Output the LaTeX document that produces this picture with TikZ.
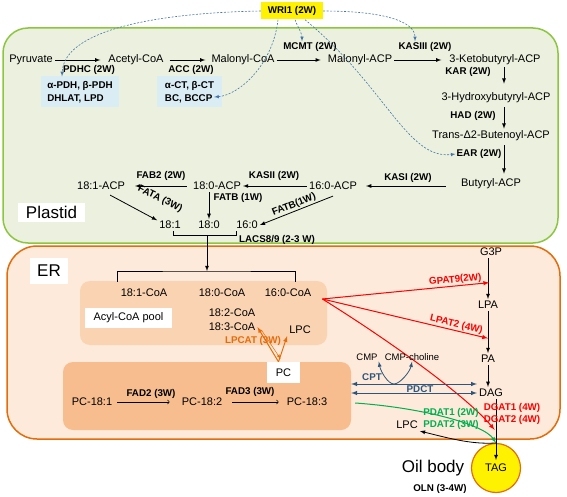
\documentclass[tikz,border=0pt]{standalone}
\usepackage{fontspec}
\setmainfont{Liberation Sans}
\usetikzlibrary{calc}

\definecolor{plastidfill}{RGB}{235,241,222}
\definecolor{plastidline}{RGB}{140,198,63}
\definecolor{erfill}{RGB}{253,234,218}
\definecolor{erline}{RGB}{228,108,10}
\definecolor{poolfill}{RGB}{250,211,178}
\definecolor{pcfill}{RGB}{247,189,142}
\definecolor{enzfill}{RGB}{219,237,244}
\definecolor{wriblue}{RGB}{70,118,170}
\definecolor{cptblue}{RGB}{47,85,124}
\definecolor{pdatgreen}{RGB}{0,176,80}

\tikzset{
  met/.style={inner sep=2pt, font=\fontsize{11}{13}\selectfont},
  enz/.style={inner sep=1pt, font=\fontsize{9.8}{13}\selectfont\bfseries},
  arr/.style={-latex, line width=0.8pt},
  wri/.style={-latex, wriblue, line width=0.6pt, dash pattern=on 2pt off 1.5pt},
  redarr/.style={-latex, red, line width=1pt},
  cptarr/.style={latex-latex, cptblue, line width=1pt},
  lpcat/.style={erline, line width=1pt}
}

\begin{document}
\begin{tikzpicture}[x=1pt, y=-1pt]
\useasboundingbox (0,0) rectangle (567,497);

% compartments
\draw [plastidline, fill=plastidfill, line width=1.5pt, rounded corners=25pt] (3,28) rectangle (558,243);
\draw [erline, fill=erfill, line width=1.5pt, rounded corners=30pt] (7,246) rectangle (560,439);
\node [fill=white, minimum width=67pt, minimum height=19pt, font=\fontsize{17}{19}\selectfont] (plastid) at (51.5,212.5) {Plastid};
\node [fill=white, minimum width=38pt, minimum height=26pt, font=\fontsize{17}{19}\selectfont] (er) at (49,271) {ER};
\node [fill=poolfill, rounded corners=10pt, minimum width=247pt, minimum height=64pt] (pool) at (203.5,313) {};
\node [fill=pcfill, rounded corners=10pt, minimum width=288pt, minimum height=68pt] (pcbox) at (207,396) {};

\node [enz, fill=yellow, minimum width=62pt, minimum height=17pt] (wri) at (292,11) {WRI1 (2W)};

% plastid pathway
\node [met] (pyr) at (31,60) {Pyruvate};
\node [met] (acoa) at (136,60) {Acetyl-CoA};
\node [met] (mcoa) at (243,60) {Malonyl-CoA};
\node [met] (macp) at (360,60) {Malonyl-ACP};
\node [met] (kbacp) at (495,60) {3-Ketobutyryl-ACP};
\draw [arr, shorten >=6pt] (pyr) -- (acoa);
\draw [arr, shorten <=4pt, shorten >=4pt] (acoa) -- (mcoa);
\draw [arr, shorten >=5pt] (mcoa) -- (macp);
\draw [arr, shorten >=6pt] (macp) -- (kbacp);
\node [enz] (pdhc) at (89,70) {PDHC (2W)};
\node [enz] (acc) at (191,70) {ACC (2W)};
\node [enz] (mcmt) at (310,47) {MCMT (2W)};
\node [enz] (kas3) at (425,47) {KASIII (2W)};
\node [enz, fill=enzfill, align=left, minimum width=78pt, minimum height=31pt] (pdhbox) at (80,92) {α-PDH, β-PDH\\DHLAT, LPD};
\node [enz, fill=enzfill, align=left, minimum width=65pt, minimum height=31pt] (accbox) at (189.5,92) {α-CT, β-CT\\BC, BCCP};

\coordinate (colx) at (504,0);
\node [met] (hbacp) at (496,98) {3-Hydroxybutyryl-ACP};
\node [met] (tbacp) at (491,136) {Trans-Δ2-Butenoyl-ACP};
\node [met] (bacp) at (491,184) {Butyryl-ACP};
\draw [arr, shorten >=7pt] (kbacp.south -| colx) -- (hbacp.north -| colx);
\draw [arr, shorten <=2pt] (hbacp.south -| colx) -- (tbacp.north -| colx);
\draw [arr, shorten <=2pt, shorten >=3pt] (tbacp.south -| colx) -- (bacp.north -| colx);
\node [enz] (kar) at (468,72) {KAR (2W)};
\node [enz] (had) at (473,116) {HAD (2W)};
\node [enz] (ear) at (479,154) {EAR (2W)};

\node [met] (acp160) at (333,186) {16:0-ACP};
\node [met] (acp180) at (217,186) {18:0-ACP};
\node [met] (acp181) at (101,186) {18:1-ACP};
\draw [arr, shorten <=13pt, shorten >=7pt] (bacp.west |- acp160) -- (acp160);
\draw [arr] (acp160) -- (acp180);
\draw [arr, shorten <=4pt, shorten >=8pt] (acp180) -- (acp181);
\node [enz] (kas1) at (408,178) {KASI (2W)};
\node [enz] (kas2) at (274,176) {KASII (2W)};
\node [enz] (fab2) at (161,176) {FAB2 (2W)};

\node [met] (f181) at (170,225) {18:1};
\node [met] (f180) at (209,225) {18:0};
\node [met] (f160) at (247,225) {16:0};
\draw [arr] (acp180.south -| f180) -- (f180.north);
\node [enz] (fatb1) at (238,198) {FATB (1W)};
\draw [arr] ([xshift=3pt,yshift=-3pt]acp181.-45) -- (f181.160);
\node [enz, rotate=-26] (fata) at (160,199) {FATA (3W)};
\draw [arr] ([yshift=-4pt]acp160.south) -- (f160.east);
\node [enz, rotate=22] (fatb2) at (294,205) {FATB(1W)};

\draw [line width=0.8pt] ([xshift=3pt]f181.south) -- ++(0,4) -| ([xshift=-11pt]f160.south);
\coordinate (lacstop) at (207,236);
\coordinate (lacsbot) at (207,271);
\draw [arr] (lacstop) -- (lacsbot);
\node [enz] (lacs) at (277,240) {LACS8/9 (2-3 W)};

% WRI1 targets
\draw [wri] (wri.west) .. controls +(-110,2) and +(2,-45) .. ([xshift=-18pt]pdhbox.north);
\draw [wri] ([xshift=-14pt]wri.south) .. controls +(-5,45) and +(25,-2) .. ([xshift=-8pt,yshift=-5pt]accbox.east);
\draw [wri] ([xshift=3pt]wri.south) .. controls +(3,8) and +(0,-8) .. ([xshift=-8pt]mcmt.north);
\draw [wri] (wri.east) .. controls +(60,0) and +(0,-20) .. ([xshift=-10pt]kas3.north);
\draw [wri] ([xshift=13pt]wri.south) .. controls +(80,66) and +(-48,6) .. (ear.west);

% ER: acyl-CoA pool
\node [met] (c181) at (144,293) {18:1-CoA};
\node [met] (c180) at (222,293) {18:0-CoA};
\node [met] (c160) at (288,293) {16:0-CoA};
\draw [line width=0.8pt] ([xshift=-27pt,yshift=5pt]c181.north) |- (lacsbot) -| ([xshift=7pt,yshift=5pt]c160.north);
\node [met, fill=white, minimum width=87pt, minimum height=20pt] (poollabel) at (128.5,318) {Acyl-CoA pool};
\node [met] (c182) at (232,313) {18:2-CoA};
\node [met] (c183) at (232,327) {18:3-CoA};
\node [met] (lpc1) at (300,330) {LPC};

% PC
\node [met, fill=white, minimum width=33pt, minimum height=21pt] (pcl) at (283.5,372.5) {PC};
\node [met] (pc181) at (92,402) {PC-18:1};
\node [met] (pc182) at (202,402) {PC-18:2};
\node [met] (pc183) at (307,402) {PC-18:3};
\draw [->, line width=0.6pt, shorten <=3pt, shorten >=10pt] (pc181) -- (pc182);
\draw [->, line width=0.6pt, shorten <=8pt, shorten >=6pt] (pc182) -- (pc183);
\node [enz] (fad2) at (151,394) {FAD2 (3W)};
\node [enz] (fad3) at (250,392) {FAD3 (3W)};

\draw [lpcat, -latex] ([xshift=-5pt]pcl.north) -- (c183.east);
\draw [lpcat, line width=0.5pt, -latex] ([xshift=4pt,yshift=-3pt]c183.east) -- ([xshift=-3pt,yshift=3pt]pcl.north);
\draw [lpcat, -latex] ([xshift=-5pt]pcl.north) -- (lpc1.south west);
\node [enz, text=erline] (lpcat) at (253,341) {LPCAT (3W)};

% Kennedy pathway
\node [met] (g3p) at (491,252) {G3P};
\node [met] (lpa) at (488,305) {LPA};
\node [met] (pa) at (488,359) {PA};
\node [met] (dag) at (491,393) {DAG};
\node [met, circle, draw=erline, line width=1.2pt, fill=yellow, minimum size=49pt, inner sep=0pt] (tag) at (496,468) {TAG};
\draw [arr] (g3p.south -| lpa) -- (lpa);
\draw [arr] (lpa) -- (pa);
\draw [arr] (pa) -- (pa |- dag.north);
\draw [arr, shorten >=8pt] (dag.south -| tag) -- (tag.center);
\node [font=\fontsize{17}{19}\selectfont] (oil) at (433,468) {Oil body};
\node [enz] (oln) at (440,489) {OLN (3-4W)};

\coordinate (redsrc) at ([xshift=9pt,yshift=-6pt]c160.east);
\draw [redarr] (redsrc) -- ($(g3p.south)!0.6!(lpa.north)$) node [enz, text=red, pos=0.8, sloped, above] (gpat) {GPAT9(2W)};
\draw [redarr] (redsrc) -- ($(lpa.south)!0.65!(pa.north)$) node [enz, text=red, pos=0.8, sloped, above] (lpat) {LPAT2 (4W)};
\draw [redarr] (redsrc) .. controls +(80,50) and +(-25,-30) .. ($(dag.south)!0.7!(tag.north)$);
\node [enz, text=red] (dgat1) at (512,408) {DGAT1 (4W)};
\node [enz, text=red] (dgat2) at (512,420) {DGAT2 (4W)};

\coordinate (pdctl) at (pcbox.east |- dag.west);
\draw [cptarr] (pdctl) -- (dag.west);
\draw [cptarr] ($(pdctl)+(0,-9)$) -- ($(dag.west)+(0,-9)$) coordinate [pos=0.34] (cptv);
\node [enz, text=cptblue] (cpt) at (372,377) {CPT};
\node [enz, text=cptblue] (pdct) at (420,389) {PDCT};
\node [inner sep=1pt, font=\fontsize{9.5}{11}\selectfont] (cmp) at (367,357) {CMP};
\node [inner sep=1pt, font=\fontsize{9.5}{11}\selectfont] (cmpch) at (412,357) {CMP-choline};
\draw [cptblue, -latex, line width=0.8pt] (cptv) .. controls +(-6,0) and +(2,10) .. (cmp.south east);
\draw [cptblue, -latex, line width=0.8pt] (cptv) .. controls +(6,0) and +(-2,10) .. (cmpch.south);

\node [met] (lpc2) at (407,425) {LPC};
\draw [-latex, pdatgreen, line width=1pt] ($(pcbox.east)+(4,7)$) .. controls +(70,5) and +(-12,-18) .. (tag.north);
\node [enz, text=pdatgreen] (pdat1) at (451,413) {PDAT1 (2W)};
\node [enz, text=pdatgreen] (pdat2) at (451,425) {PDAT2 (3W)};
\draw [-latex, line width=0.8pt] (tag.north) .. controls +(-25,2) and +(25,6) .. (lpc2.south east);

\end{tikzpicture}
\end{document}
